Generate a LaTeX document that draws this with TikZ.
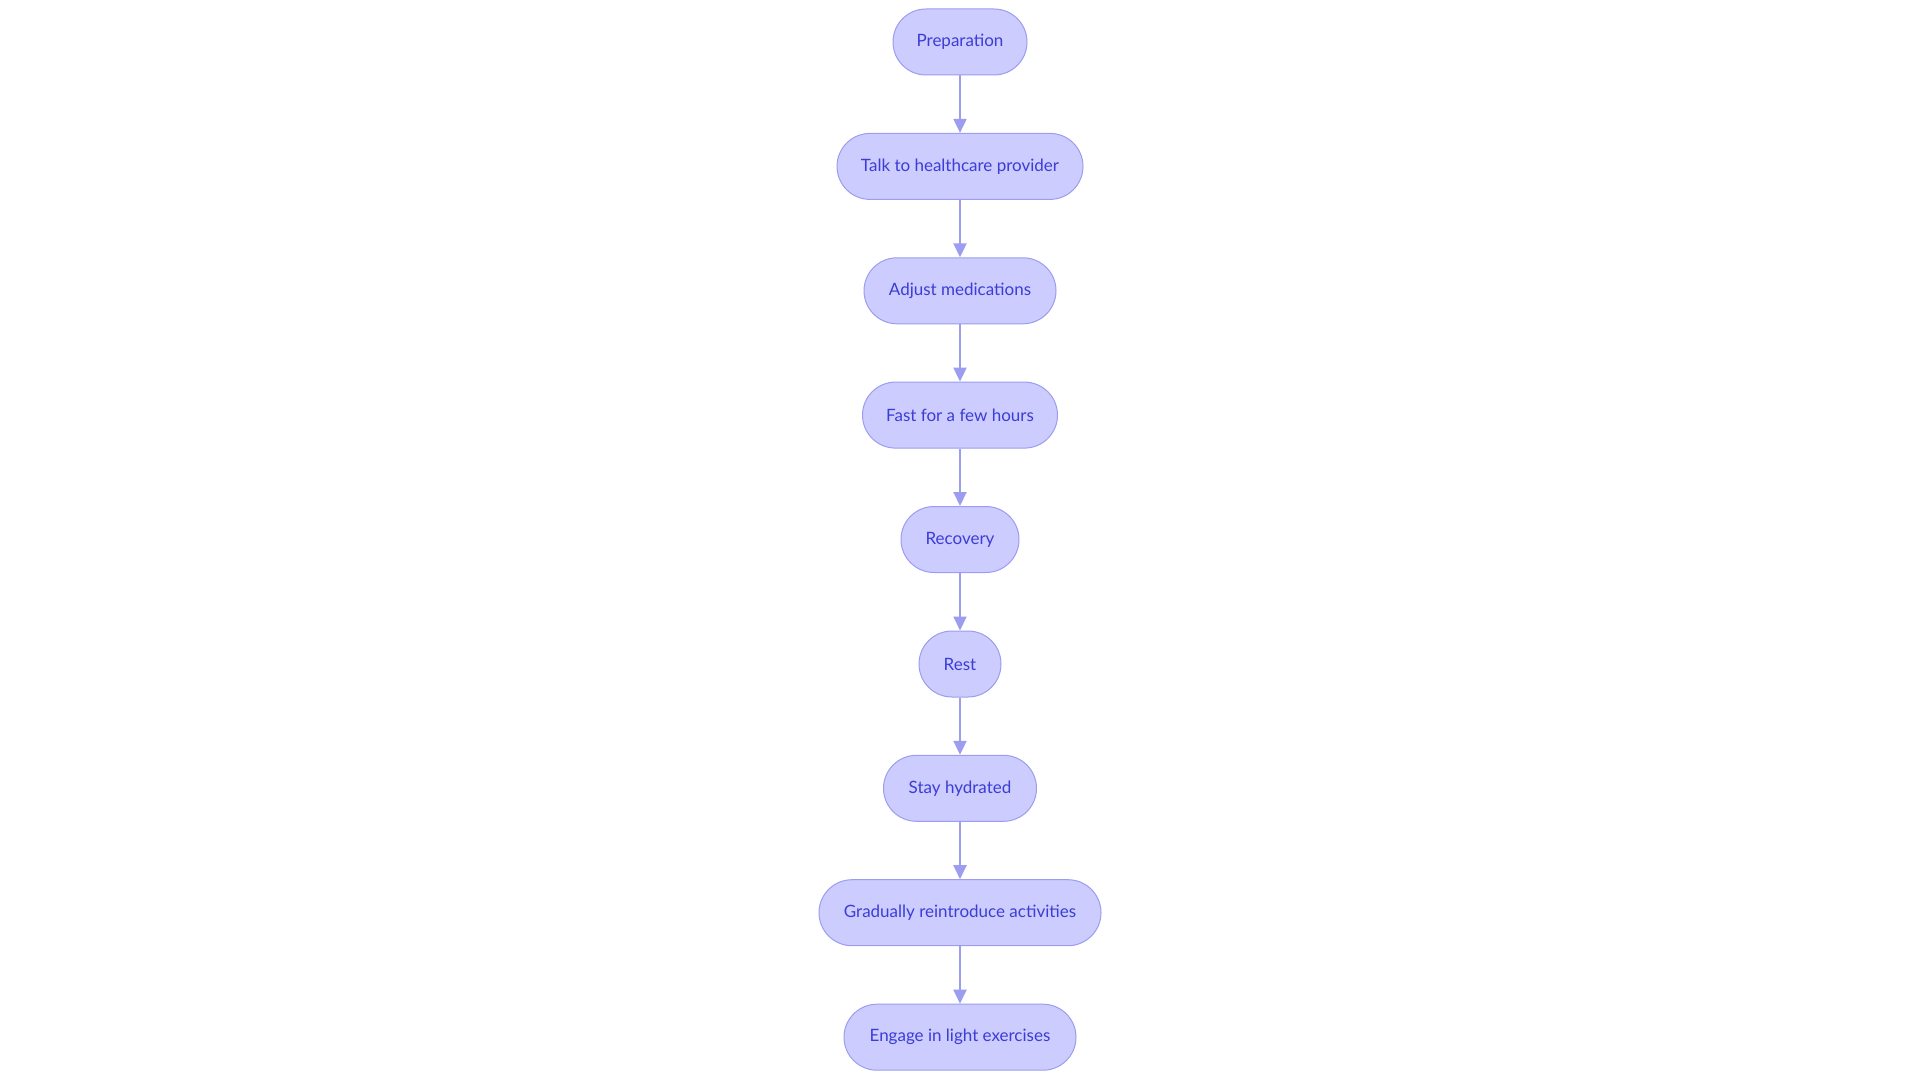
\documentclass[tikz,border=0pt]{standalone}
\usepackage{fontspec}
\setmainfont{Lato}
\usetikzlibrary{arrows.meta}
\definecolor{nodefill}{RGB}{204,204,255}
\definecolor{nodeline}{RGB}{156,156,240}
\definecolor{nodetext}{RGB}{60,60,214}
\definecolor{edgecol}{RGB}{156,156,240}
\tikzset{
  stepbox/.style={draw=nodeline, line width=1pt, fill=nodefill, rounded corners=33pt,
    minimum height=66pt, inner sep=0pt, text=nodetext, font=\fontsize{17pt}{20pt}\selectfont},
  flow/.style={draw=edgecol, line width=2pt, -{Triangle[length=14pt,width=13pt]}}
}
\begin{document}
\begin{tikzpicture}[x=1pt,y=-1pt]
\useasboundingbox (0,0) rectangle (1920,1083);
\node[stepbox, minimum width=134pt] (n1) at (960,42) {Preparation};
\node[stepbox, minimum width=246pt] (n2) at (960,166.4) {Talk to healthcare provider};
\node[stepbox, minimum width=192pt] (n3) at (960,290.8) {Adjust medications};
\node[stepbox, minimum width=195pt] (n4) at (960,415.1) {Fast for a few hours};
\node[stepbox, minimum width=118pt] (n5) at (960,539.5) {Recovery};
\node[stepbox, minimum width=82pt] (n6) at (960,664) {Rest};
\node[stepbox, minimum width=153pt] (n7) at (960,788.3) {Stay hydrated};
\node[stepbox, minimum width=282pt] (n8) at (960,912.7) {Gradually reintroduce activities};
\node[stepbox, minimum width=232pt] (n9) at (960,1037.2) {Engage in light exercises};
\foreach \a/\b in {n1/n2,n2/n3,n3/n4,n4/n5,n5/n6,n6/n7,n7/n8,n8/n9}
  \draw[flow] (\a) -- (\b);
\end{tikzpicture}
\end{document}
